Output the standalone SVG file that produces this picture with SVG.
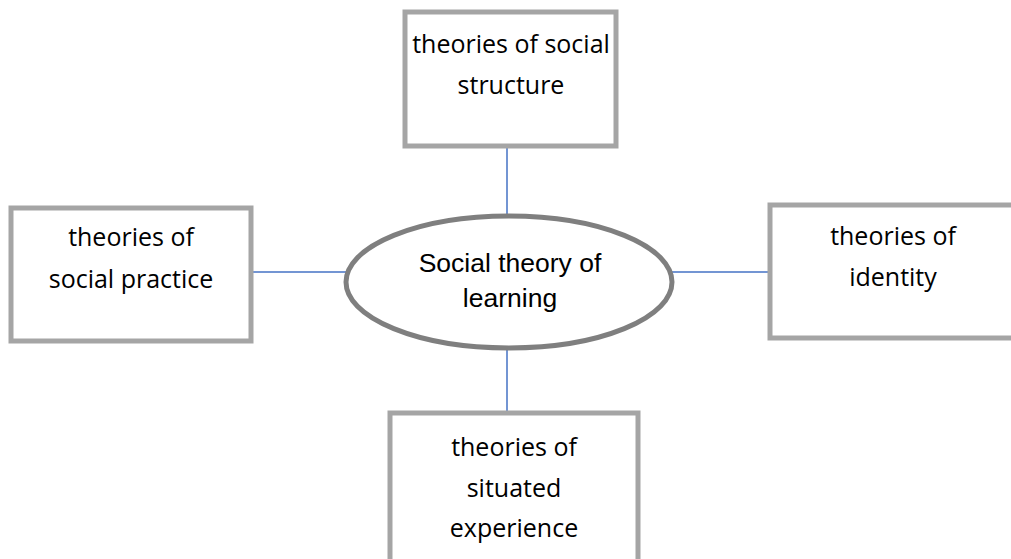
<svg xmlns="http://www.w3.org/2000/svg" width="1011" height="559" viewBox="0 0 1011 559">
<style>
.box{fill:#fff;stroke:#A5A5A5;stroke-width:5}
.ell{fill:#fff;stroke:#7F7F7F;stroke-width:5}
.conn{stroke:#4472C4;stroke-width:1.5;fill:none}
.t{font-family:"Open Sans","Liberation Sans",sans-serif;font-size:25px;fill:#000;text-anchor:middle}
.c{font-family:"Liberation Sans",Arial,sans-serif;font-size:26.5px;fill:#000;text-anchor:middle}
</style>
<rect width="1011" height="559" fill="#fff"/>
<g id="connectors">
<line class="conn" x1="507" y1="148" x2="507" y2="215"/>
<line class="conn" x1="253" y1="272" x2="347" y2="272"/>
<line class="conn" x1="672" y1="272" x2="768" y2="272"/>
<line class="conn" x1="507" y1="347" x2="507" y2="411"/>
</g>
<g id="top">
<rect class="box" x="405" y="12" width="211" height="134"/>
<text class="t" x="511" y="53">theories of social</text>
<text class="t" x="511" y="94">structure</text>
</g>
<g id="left">
<rect class="box" x="11" y="208" width="240" height="133"/>
<text class="t" x="131" y="246">theories of</text>
<text class="t" x="131" y="288">social practice</text>
</g>
<g id="right">
<rect class="box" x="770" y="205" width="250" height="133"/>
<text class="t" x="893" y="245">theories of</text>
<text class="t" x="893" y="286">identity</text>
</g>
<g id="bottom">
<rect class="box" x="390" y="413" width="248" height="160"/>
<text class="t" x="514" y="456">theories of</text>
<text class="t" x="514" y="497">situated</text>
<text class="t" x="514" y="537">experience</text>
</g>
<g id="center">
<ellipse class="ell" cx="509" cy="282" rx="163" ry="66"/>
<text class="c" x="510" y="272">Social theory of</text>
<text class="c" x="510" y="307">learning</text>
</g>
</svg>
